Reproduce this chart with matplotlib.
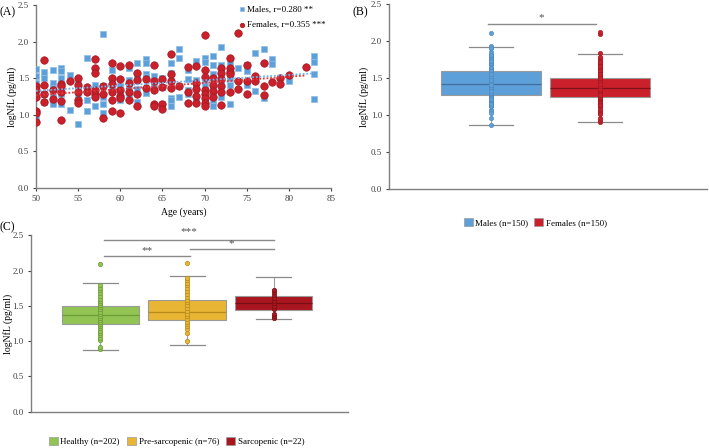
import matplotlib.pyplot as plt

plt.rcParams['font.family'] = 'Liberation Serif'

# ---- panel A data: (age, logNfL) ----
male_age = [50, 50, 50, 50, 50,
            51, 51, 51, 51,
            52, 52, 52, 52, 52, 52,
            53, 53, 53, 53, 53, 53,
            54, 54,
            55, 55, 55, 55, 55,
            56, 56, 56,
            57, 57,
            58, 58, 58, 58, 58,
            59, 59, 59,
            60, 60, 60,
            61, 61, 61, 61,
            62, 62, 62, 62,
            63, 63, 63, 63, 63,
            64, 64,
            65, 65, 65,
            66, 66, 66, 66, 66, 66,
            67, 67, 67, 67,
            68, 68, 68, 68,
            69, 69, 69, 69,
            70, 70, 70, 70, 70, 70, 70,
            71, 71, 71, 71, 71, 71, 71,
            72, 72, 72, 72, 72,
            73, 73, 73, 73,
            74,
            75, 75, 75,
            76, 76,
            77, 77,
            78, 78,
            80, 80,
            83, 83, 83, 83]
male_val = [1.63, 1.53, 1.44, 1.30, 0.96,
            1.59, 1.51, 1.29, 1.18,
            1.61, 1.44, 1.37, 1.25, 1.18, 1.15,
            1.64, 1.60, 1.50, 1.43, 1.28, 1.15,
            1.54, 1.07,
            1.48, 1.40, 1.34, 1.25, 0.87,
            1.78, 1.21, 1.05,
            1.41, 1.12,
            2.11, 1.40, 1.25, 1.15, 1.03,
            1.61, 1.46, 1.35,
            1.39, 1.28, 1.21,
            1.64, 1.48, 1.38, 1.28,
            1.71, 1.53, 1.35, 1.18,
            1.76, 1.71, 1.56, 1.52, 1.30,
            1.53, 1.40,
            1.50, 1.38, 1.15,
            1.71, 1.57, 1.46, 1.23, 1.21, 1.12,
            1.90, 1.78, 1.40, 1.24,
            1.62, 1.49, 1.34, 1.28,
            1.74, 1.48, 1.39, 1.23,
            1.78, 1.73, 1.46, 1.39, 1.32, 1.21, 1.14,
            1.81, 1.69, 1.56, 1.38, 1.30, 1.21, 1.12,
            1.93, 1.69, 1.53, 1.43, 1.24,
            1.72, 1.50, 1.41, 1.15,
            1.64,
            1.69, 1.60, 1.41,
            1.85, 1.33,
            1.90, 1.23,
            1.76, 1.70,
            1.51, 1.47,
            1.81, 1.73, 1.56, 1.22]

female_age = [50, 50, 50, 50, 50, 50,
              51, 51, 51, 51,
              52, 52,
              53, 53, 53, 53, 53,
              54,
              55, 55, 55, 55, 55,
              56, 56,
              57, 57, 57, 57, 57, 57,
              58, 58, 58,
              59, 59, 59, 59, 59, 59,
              60, 60, 60, 60, 60, 60,
              61, 61, 61, 61,
              62, 62, 62, 62,
              63, 63,
              64, 64, 64, 64, 64,
              65, 65, 65, 65,
              66, 66, 66, 66,
              67,
              68, 68, 68,
              69, 69, 69, 69, 69,
              70, 70, 70, 70, 70, 70, 70, 70,
              71, 71, 71, 71,
              72, 72, 72, 72, 72, 72,
              73, 73, 73, 73, 73,
              74, 74, 74,
              75, 75, 75,
              76, 76,
              77, 77, 77,
              78,
              79, 79,
              80,
              82]
female_val = [1.40, 1.34, 1.25, 1.06, 1.03, 0.91,
              1.75, 1.41, 1.28, 1.18,
              1.34, 1.22,
              1.42, 1.40, 1.32, 1.19, 0.93,
              1.47,
              1.51, 1.41, 1.32, 1.21, 1.16,
              1.38, 1.31,
              1.77, 1.64, 1.57, 1.34, 1.28, 1.24,
              1.40, 1.28, 0.96,
              1.71, 1.50, 1.43, 1.32, 1.21, 1.06,
              1.67, 1.49, 1.34, 1.26, 1.23, 1.02,
              1.68, 1.44, 1.32, 1.21,
              1.58, 1.48, 1.28, 1.12,
              1.49, 1.37,
              1.69, 1.47, 1.34, 1.15, 1.12,
              1.49, 1.38, 1.15, 1.08,
              1.84, 1.56, 1.47, 1.37,
              1.39,
              1.66, 1.32, 1.16,
              1.67, 1.44, 1.35, 1.26, 1.17,
              2.09, 1.62, 1.52, 1.34, 1.28, 1.23, 1.16, 1.12,
              1.50, 1.41, 1.33, 1.25,
              1.64, 1.58, 1.49, 1.39, 1.31, 1.14,
              1.78, 1.64, 1.59, 1.56, 1.32,
              2.12, 1.47, 1.35,
              1.68, 1.46, 1.28,
              1.53, 1.47,
              1.71, 1.39, 1.27,
              1.45,
              1.50, 1.42,
              1.55,
              1.66]

# fitted trend lines (end points)
male_trend_age = [50, 83]
male_trend_val = [1.33, 1.57]
female_trend_age = [50, 82]
female_trend_val = [1.27, 1.54]

# ---- panel B data: box statistics ----
sex_labels = ['Males (n=150)', 'Females (n=150)']
sex_q1 = [1.27, 1.25]
sex_med = [1.42, 1.36]
sex_q3 = [1.595, 1.50]
sex_lo = [0.86, 0.905]
sex_hi = [1.92, 1.83]

# ---- panel C data ----
grp_labels = ['Healthy (n=202)', 'Pre-sarcopenic (n=76)', 'Sarcopenic (n=22)']
grp_q1 = [1.243, 1.30, 1.445]
grp_med = [1.375, 1.41, 1.535]
grp_q3 = [1.50, 1.59, 1.64]
grp_lo = [0.87, 0.95, 1.31]
grp_hi = [1.83, 1.93, 1.91]
healthy_pts = [0.89, 0.92, 1.02, 1.05, 1.08, 1.12, 1.15, 1.18, 1.21, 1.24, 1.27,
               1.30, 1.33, 1.36, 1.39, 1.42, 1.45, 1.48, 1.51, 1.54, 1.57,
               1.60, 1.64, 1.68, 1.72, 1.76, 1.79, 2.09]
pre_pts = [1.00, 1.11, 1.17, 1.21, 1.24, 1.27, 1.31, 1.35, 1.39, 1.43, 1.47,
           1.51, 1.55, 1.59, 1.63, 1.67, 1.71, 1.75, 1.79, 1.83, 1.87, 1.90, 2.11]
sarc_pts = [1.33, 1.36, 1.38, 1.46, 1.50, 1.54, 1.57, 1.61, 1.66, 1.69, 1.72]

# significance brackets: (from, to, height, stars)
sig_B = [(0.97, 1.96, 2.23, '*')]
sig_C = [(1.04, 3.0, 2.43, '***'), (1.04, 2.03, 2.20, '**'), (2.03, 3.0, 2.30, '*')]

blue = '#5d9fd8'
red = '#c9202b'
grp_colors = ['#92c454', '#e8b634', '#a9161f']
grp_dark = ['#6c9a35', '#b98a1c', '#7a0e14']
spine_c = '#7f7f7f'


def style_axes(ax, ylab_x):
    for s in ['top', 'right']:
        ax.spines[s].set_visible(False)
    for s in ['left', 'bottom']:
        ax.spines[s].set_color(spine_c)
        ax.spines[s].set_linewidth(1.0)
    ax.tick_params(colors='#404040', labelsize=6.5, length=2.5, width=0.8, pad=2.5)
    ax.set_ylim(0, 2.5)
    ax.set_yticks([0, 0.5, 1.0, 1.5, 2.0, 2.5])
    ax.set_yticklabels(['0.0', '0.5', '1.0', '1.5', '2.0', '2.5'])
    ax.set_ylabel('logNfL (pg/ml)', fontsize=7)
    ax.yaxis.set_label_coords(ylab_x, 0.5)


def draw_boxes(ax, pos, q1, med, q3, lo, hi, width, faces, meds):
    stats = []
    for i in range(len(pos)):
        stats.append(dict(q1=q1[i], med=med[i], q3=q3[i], whislo=lo[i],
                          whishi=hi[i], fliers=[]))
    bp = ax.bxp(stats, positions=pos, widths=width, patch_artist=True,
                showfliers=False, capwidths=width * 0.45,
                whiskerprops=dict(color='#a0a0a0', lw=0.8),
                capprops=dict(color='#8a8a8a', lw=0.9),
                medianprops=dict(lw=0.9), manage_ticks=False)
    for i, b in enumerate(bp['boxes']):
        b.set_facecolor(faces[i])
        b.set_edgecolor('#9a9a9a')
        b.set_linewidth(0.8)
        bp['medians'][i].set_color(meds[i])
    return bp


def draw_sig(ax, sig, lift):
    for x0, x1, y, star in sig:
        ax.plot([x0, x1], [y, y], color='#8a8a8a', lw=1.0, clip_on=False)
        extra = 0.03 if len(star) == 3 else 0.0
        ax.text((x0 + x1) / 2, y + lift + extra, star, ha='center', va='baseline',
                fontsize=8, color='#505050')


fig = plt.figure(figsize=(7.09, 4.48), dpi=100)

# ---------- (A) ----------
axA = fig.add_axes([0.0508, 0.5804, 0.4160, 0.4076])
style_axes(axA, -0.064)
axA.scatter(male_age, male_val, marker='s', s=20, color=blue,
            edgecolors='#8fbde6', linewidths=0.5, zorder=3,
            label='Males, r=0.280 **')
axA.scatter(female_age, female_val, marker='o', s=29, color=red,
            edgecolors='#a01820', linewidths=0.5, zorder=3,
            label='Females, r=0.355 ***')
axA.plot(male_trend_age, male_trend_val, ls=(0, (1, 1)), color='#6fb2ef', lw=1.3, zorder=4)
axA.plot(female_trend_age, female_trend_val, ls=(0, (1, 1)), color='#e0383d', lw=1.3, zorder=4)
axA.set_xlim(50, 85)
axA.set_xticks(range(50, 90, 5))
axA.set_xlabel('Age (years)', fontsize=7, labelpad=3)
axA.legend(loc='upper right', bbox_to_anchor=(1.0, 1.03), frameon=False,
           fontsize=6.5, handletextpad=0.1, markerscale=0.6,
           borderaxespad=0.2, labelspacing=0.8, handlelength=1.0)
fig.text(0.0, 0.985, '(A)', fontsize=8.5, va='top', ha='left')

# ---------- (B) ----------
axB = fig.add_axes([0.5487, 0.578, 0.4483, 0.413])
style_axes(axB, -0.063)
draw_boxes(axB, [1, 2], sex_q1, sex_med, sex_q3, sex_lo, sex_hi, 0.91,
           [blue, red], ['#3f6f9a', '#7d1218'])
axB.scatter([1] * len(male_val), male_val, s=10, color=blue, edgecolors='#4f88bd',
            linewidths=0.4, zorder=4)
axB.scatter([2] * len(female_val), female_val, s=10, color=red, edgecolors='#a01820',
            linewidths=0.4, zorder=4)
axB.set_xlim(0.064, 2.98)
axB.set_xticks([])
draw_sig(axB, sig_B, 0.05)
hB = [plt.Rectangle((0, 0), 1, 1, facecolor=c, edgecolor='#9a9a9a', lw=0.5)
      for c in [blue, red]]
axB.legend(hB, sex_labels, loc='center', bbox_to_anchor=(0.46, -0.18),
           ncol=2, frameon=False, fontsize=6.5, handlelength=1.0, handleheight=1.0,
           handletextpad=0.3, columnspacing=0.6)
fig.text(0.497, 0.985, '(B)', fontsize=8.5, va='top', ha='left')

# ---------- (C) ----------
axC = fig.add_axes([0.0433, 0.081, 0.4475, 0.3938])
style_axes(axC, -0.057)
draw_boxes(axC, [1, 2, 3], grp_q1, grp_med, grp_q3, grp_lo, grp_hi, 0.896,
           grp_colors, grp_dark)
for i, pts in enumerate([healthy_pts, pre_pts, sarc_pts]):
    axC.scatter([i + 1] * len(pts), pts, s=10, color=grp_colors[i],
                edgecolors=grp_dark[i], linewidths=0.5, zorder=4)
axC.set_xlim(0.194, 3.858)
axC.set_xticks([])
draw_sig(axC, sig_C, 0.05)
hC = [plt.Rectangle((0, 0), 1, 1, facecolor=c, edgecolor='#9a9a9a', lw=0.5)
      for c in grp_colors]
axC.legend(hC, grp_labels, loc='center', bbox_to_anchor=(0.46, -0.17),
           ncol=3, frameon=False, fontsize=6.5, handlelength=1.0, handleheight=1.0,
           handletextpad=0.3, columnspacing=0.8)
fig.text(0.0, 0.506, '(C)', fontsize=8.5, va='top', ha='left')

fig.savefig('out.png', dpi=100)
